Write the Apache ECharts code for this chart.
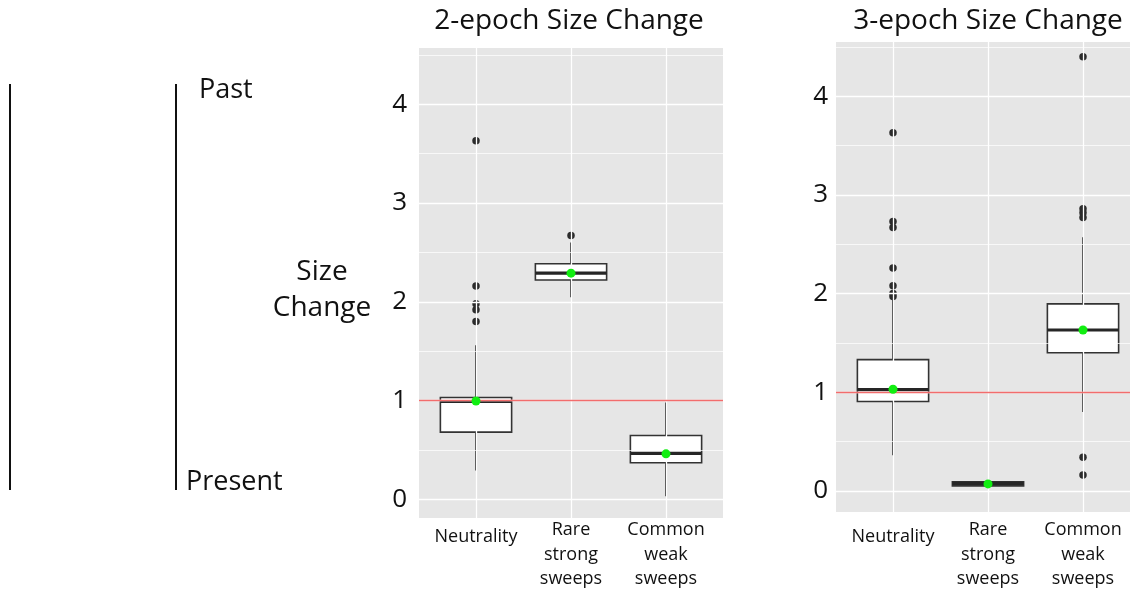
<!DOCTYPE html>
<html>
<head>
<meta charset="utf-8">
<script src="https://cdn.jsdelivr.net/npm/echarts@6/dist/echarts.min.js"></script>
<style>html,body{margin:0;padding:0;background:#fff}#c{width:1130px;height:590px}</style>
</head>
<body>
<div id="c"></div>
<script>
const categories = ['Neutrality', 'Rare\nstrong\nsweeps', 'Common\nweak\nsweeps'];
const yTicks = [0, 1, 2, 3, 4];
const yMinorTicks = [0.5, 1.5, 2.5, 3.5, 4.5];
const referenceLine = 1;
const titles = ['2-epoch Size Change', '3-epoch Size Change'];

// [lower whisker, Q1, median, Q3, upper whisker]
const twoEpochBoxes = [
  [0.29, 0.68, 0.99, 1.03, 1.56],
  [2.045, 2.22, 2.29, 2.385, 2.60],
  [0.03, 0.37, 0.465, 0.645, 0.98]
];
const twoEpochOutliers = [[0, 1.80], [0, 1.92], [0, 1.98], [0, 2.16], [0, 3.63], [1, 2.67]];
const twoEpochMeans = [0.995, 2.29, 0.46];

const threeEpochBoxes = [
  [0.36, 0.905, 1.025, 1.33, 1.95],
  [0.035, 0.05, 0.075, 0.09, 0.105],
  [0.80, 1.40, 1.63, 1.895, 2.57]
];
const threeEpochOutliers = [[0, 1.97], [0, 2.00], [0, 2.08], [0, 2.26], [0, 2.67], [0, 2.73], [0, 3.63],
  [2, 0.16], [2, 0.34], [2, 2.77], [2, 2.82], [2, 2.86], [2, 4.40]];
const threeEpochMeans = [1.03, 0.07, 1.63];

const FONT = 'Open Sans';
const panels = [
  {boxes: twoEpochBoxes, outliers: twoEpochOutliers, means: twoEpochMeans, grid: {left: 419, top: 48, width: 304, height: 470}, yMin: -0.19, yMax: 4.57, xMargin: 0, singlePad: 14, yMargin: 12},
  {boxes: threeEpochBoxes, outliers: threeEpochOutliers, means: threeEpochMeans, grid: {left: 836, top: 42, width: 304, height: 470}, yMin: -0.215, yMax: 4.55, xMargin: 6, singlePad: 13, yMargin: 8}
];

function renderBox(params, api) {
  const x = api.value(0);
  const lo = api.coord([x, api.value(1)]);
  const q1 = api.coord([x, api.value(2)]);
  const med = api.coord([x, api.value(3)]);
  const q3 = api.coord([x, api.value(4)]);
  const hi = api.coord([x, api.value(5)]);
  const hw = api.size([0.75, 0])[0] / 2;
  const cx = Math.round(lo[0]);
  const ls = {stroke: '#1a1a1a', lineWidth: 1.6};
  return {type: 'group', children: [
    {type: 'line', shape: {x1: cx, y1: lo[1], x2: cx, y2: q1[1]}, style: ls},
    {type: 'line', shape: {x1: cx, y1: q3[1], x2: cx, y2: hi[1]}, style: ls},
    {type: 'rect', shape: {x: q3[0] - hw, y: q3[1], width: 2 * hw, height: q1[1] - q3[1]}, style: {fill: '#fff', stroke: '#333', lineWidth: 1.6}},
    {type: 'line', shape: {x1: med[0] - hw, y1: med[1], x2: med[0] + hw, y2: med[1]}, style: {stroke: '#262626', lineWidth: 3.2}}
  ]};
}

const grid = [], xAxis = [], yAxis = [], series = [];
panels.forEach((p, i) => {
  grid.push(Object.assign({show: true, backgroundColor: '#e6e6e6', borderWidth: 0, containLabel: false, outerBoundsMode: 'none'}, p.grid));
  xAxis.push({
    type: 'value', gridIndex: i, min: -0.6, max: 2.6,
    axisLine: {show: false}, splitLine: {show: false},
    axisTick: {show: true, length: 4, lineStyle: {color: '#333'}, customValues: [0, 1, 2]},
    axisLabel: {
      customValues: [0, 1, 2],
      formatter: v => {
        const c = categories[Math.round(v)];
        return c.indexOf('\n') < 0 ? '{s|' + c + '}' : c;
      },
      fontSize: 18, lineHeight: 24.5, color: '#111', margin: p.xMargin, fontFamily: FONT, verticalAlign: 'top',
      rich: {s: {fontSize: 18, lineHeight: 24.5, color: '#111', fontFamily: FONT, padding: [p.singlePad, 0, 0, 0]}}
    }
  });
  yAxis.push({
    type: 'value', gridIndex: i, min: p.yMin, max: p.yMax,
    axisLine: {show: false}, splitLine: {show: false},
    axisTick: {show: true, length: 4, lineStyle: {color: '#333'}, customValues: yTicks},
    axisLabel: {customValues: yTicks, fontSize: 26, color: '#111', margin: p.yMargin, fontFamily: FONT}
  });
  const gl = [];
  yTicks.forEach(v => gl.push({yAxis: v, lineStyle: {color: '#fff', width: 1.3, type: 'solid'}}));
  yMinorTicks.forEach(v => gl.push({yAxis: v, lineStyle: {color: '#fff', width: 0.7, type: 'solid'}}));
  [0, 1, 2].forEach(v => gl.push({xAxis: v, lineStyle: {color: '#fff', width: 1.3, type: 'solid'}}));
  series.push({
    type: 'line', xAxisIndex: i, yAxisIndex: i, data: [], z: 1, silent: true,
    markLine: {silent: true, symbol: ['none', 'none'], label: {show: false}, animation: false, data: gl}
  });
  series.push({
    type: 'custom', xAxisIndex: i, yAxisIndex: i, z: 2, silent: true,
    renderItem: renderBox,
    encode: {x: 0, y: [1, 2, 3, 4, 5]},
    data: p.boxes.map((b, k) => [k].concat(b))
  });
  series.push({
    type: 'line', xAxisIndex: i, yAxisIndex: i, data: [], z: 3, silent: true,
    markLine: {silent: true, symbol: ['none', 'none'], label: {show: false}, animation: false,
      data: [{yAxis: referenceLine, lineStyle: {color: '#f26d6d', width: 1.3, type: 'solid'}}]}
  });
  series.push({
    type: 'scatter', xAxisIndex: i, yAxisIndex: i, z: 4, silent: true,
    symbolSize: 7.5, itemStyle: {color: '#2b2b2b', opacity: 1},
    data: p.outliers
  });
  series.push({
    type: 'scatter', xAxisIndex: i, yAxisIndex: i, z: 5, silent: true,
    symbolSize: 9, itemStyle: {color: '#11ee11', opacity: 1},
    data: p.means.map((m, k) => [k, m])
  });
});

const txt = (t, x, y, align, size) => ({type: 'text', x: x, y: y, style: {text: t, fontSize: size || 27, fontFamily: FONT, fill: '#111', align: align || 'left', verticalAlign: 'middle'}});
const chart = echarts.init(document.getElementById('c'), null, {renderer: 'canvas'});
chart.setOption({
  animation: false,
  backgroundColor: '#fff',
  grid, xAxis, yAxis, series,
  graphic: [
    {type: 'line', shape: {x1: 10, y1: 84, x2: 10, y2: 490}, style: {stroke: '#111', lineWidth: 2}},
    {type: 'line', shape: {x1: 176, y1: 84, x2: 176, y2: 490}, style: {stroke: '#111', lineWidth: 2}},
    txt('Past', 199, 90),
    txt('Present', 186, 482),
    txt('Size', 322, 272, 'center', 28),
    txt('Change', 322, 308, 'center', 28),
    txt(titles[0], 569, 21, 'center', 28),
    txt(titles[1], 988, 21, 'center', 28)
  ]
});
</script>
</body>
</html>
